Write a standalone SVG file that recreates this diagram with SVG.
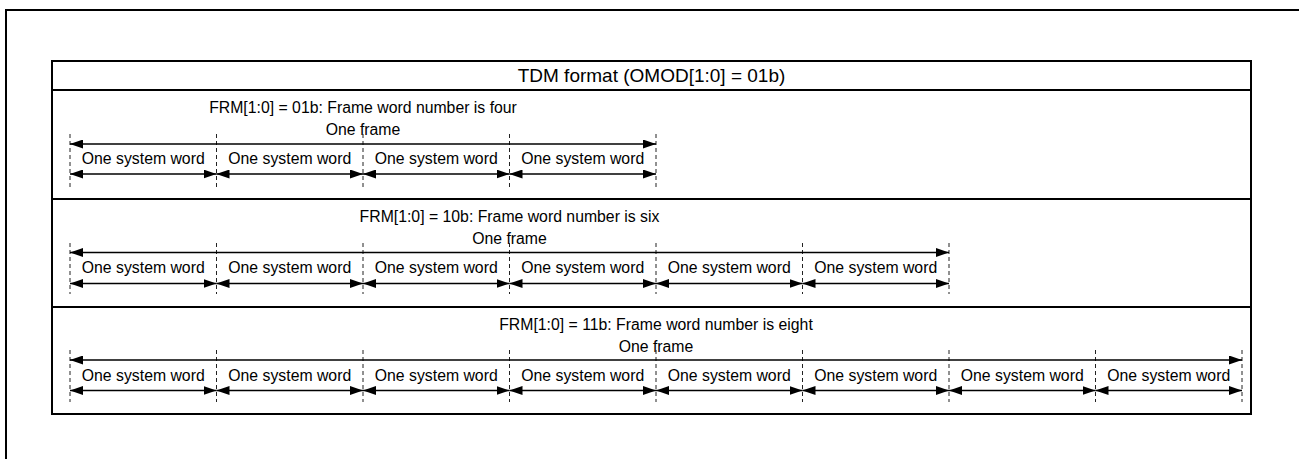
<svg xmlns="http://www.w3.org/2000/svg" width="1299" height="459" viewBox="0 0 1299 459">
<style>
text{font-family:"Liberation Sans",Arial,sans-serif;fill:#000;text-anchor:middle}
.t{font-size:15.8px}
.h{font-size:19px}
.b{fill:none;stroke:#000;stroke-width:2}
.a{fill:none;stroke:#000;stroke-width:1.4;marker-start:url(#ah);marker-end:url(#ah)}
.d{fill:none;stroke:#222;stroke-width:1;stroke-dasharray:4 3}
</style>
<defs>
<marker id="ah" markerUnits="userSpaceOnUse" markerWidth="13" markerHeight="9" refX="13" refY="4.5" orient="auto-start-reverse" viewBox="0 0 13 9"><path d="M0,0 L13,4.5 L0,9 z" fill="#000"/></marker>
</defs>
<rect width="1299" height="459" fill="#fff"/>
<g id="frame"><path class="b" d="M6,460 V10 H1300"/></g>
<g id="table">
<rect class="b" x="52" y="61" width="1199" height="353"/>
<line class="b" x1="52" y1="90" x2="1251" y2="90"/>
<line class="b" x1="52" y1="199" x2="1251" y2="199"/>
<line class="b" x1="52" y1="307" x2="1251" y2="307"/>
</g>
<g id="header"><text class="h" x="651.5" y="82">TDM format (OMOD[1:0] = 01b)</text></g>
<g id="row1">
<text class="t" x="363" y="112.5">FRM[1:0] = 01b: Frame word number is four</text>
<text class="t" x="363" y="134.5">One frame</text>
<text class="t" x="143.25" y="163.5">One system word</text>
<text class="t" x="289.75" y="163.5">One system word</text>
<text class="t" x="436.25" y="163.5">One system word</text>
<text class="t" x="582.75" y="163.5">One system word</text>
</g>
<g id="row2">
<text class="t" x="509.5" y="221.5">FRM[1:0] = 10b: Frame word number is six</text>
<text class="t" x="509.5" y="243.5">One frame</text>
<text class="t" x="143.25" y="272.5">One system word</text>
<text class="t" x="289.75" y="272.5">One system word</text>
<text class="t" x="436.25" y="272.5">One system word</text>
<text class="t" x="582.75" y="272.5">One system word</text>
<text class="t" x="729.25" y="272.5">One system word</text>
<text class="t" x="875.75" y="272.5">One system word</text>
</g>
<g id="row3">
<text class="t" x="656" y="329.5">FRM[1:0] = 11b: Frame word number is eight</text>
<text class="t" x="656" y="351.5">One frame</text>
<text class="t" x="143.25" y="380.5">One system word</text>
<text class="t" x="289.75" y="380.5">One system word</text>
<text class="t" x="436.25" y="380.5">One system word</text>
<text class="t" x="582.75" y="380.5">One system word</text>
<text class="t" x="729.25" y="380.5">One system word</text>
<text class="t" x="875.75" y="380.5">One system word</text>
<text class="t" x="1022.25" y="380.5">One system word</text>
<text class="t" x="1168.75" y="380.5">One system word</text>
</g>
<g id="connectors">
<path class="d" d="M70,134V187M216.5,134V187M363,134V187M509.5,134V187M656,134V187"/>
<line class="a" x1="70" y1="144" x2="656" y2="144"/>
<line class="a" x1="70" y1="174" x2="216.5" y2="174"/>
<line class="a" x1="216.5" y1="174" x2="363" y2="174"/>
<line class="a" x1="363" y1="174" x2="509.5" y2="174"/>
<line class="a" x1="509.5" y1="174" x2="656" y2="174"/>
<path class="d" d="M70,243V294M216.5,243V294M363,243V294M509.5,243V294M656,243V294M802.5,243V294M949,243V294"/>
<line class="a" x1="70" y1="252.5" x2="949" y2="252.5"/>
<line class="a" x1="70" y1="283.5" x2="216.5" y2="283.5"/>
<line class="a" x1="216.5" y1="283.5" x2="363" y2="283.5"/>
<line class="a" x1="363" y1="283.5" x2="509.5" y2="283.5"/>
<line class="a" x1="509.5" y1="283.5" x2="656" y2="283.5"/>
<line class="a" x1="656" y1="283.5" x2="802.5" y2="283.5"/>
<line class="a" x1="802.5" y1="283.5" x2="949" y2="283.5"/>
<path class="d" d="M70,350V402M216.5,350V402M363,350V402M509.5,350V402M656,350V402M802.5,350V402M949,350V402M1095.5,350V402M1242,350V402"/>
<line class="a" x1="70" y1="360" x2="1242" y2="360"/>
<line class="a" x1="70" y1="390.5" x2="216.5" y2="390.5"/>
<line class="a" x1="216.5" y1="390.5" x2="363" y2="390.5"/>
<line class="a" x1="363" y1="390.5" x2="509.5" y2="390.5"/>
<line class="a" x1="509.5" y1="390.5" x2="656" y2="390.5"/>
<line class="a" x1="656" y1="390.5" x2="802.5" y2="390.5"/>
<line class="a" x1="802.5" y1="390.5" x2="949" y2="390.5"/>
<line class="a" x1="949" y1="390.5" x2="1095.5" y2="390.5"/>
<line class="a" x1="1095.5" y1="390.5" x2="1242" y2="390.5"/>
</g>
</svg>
